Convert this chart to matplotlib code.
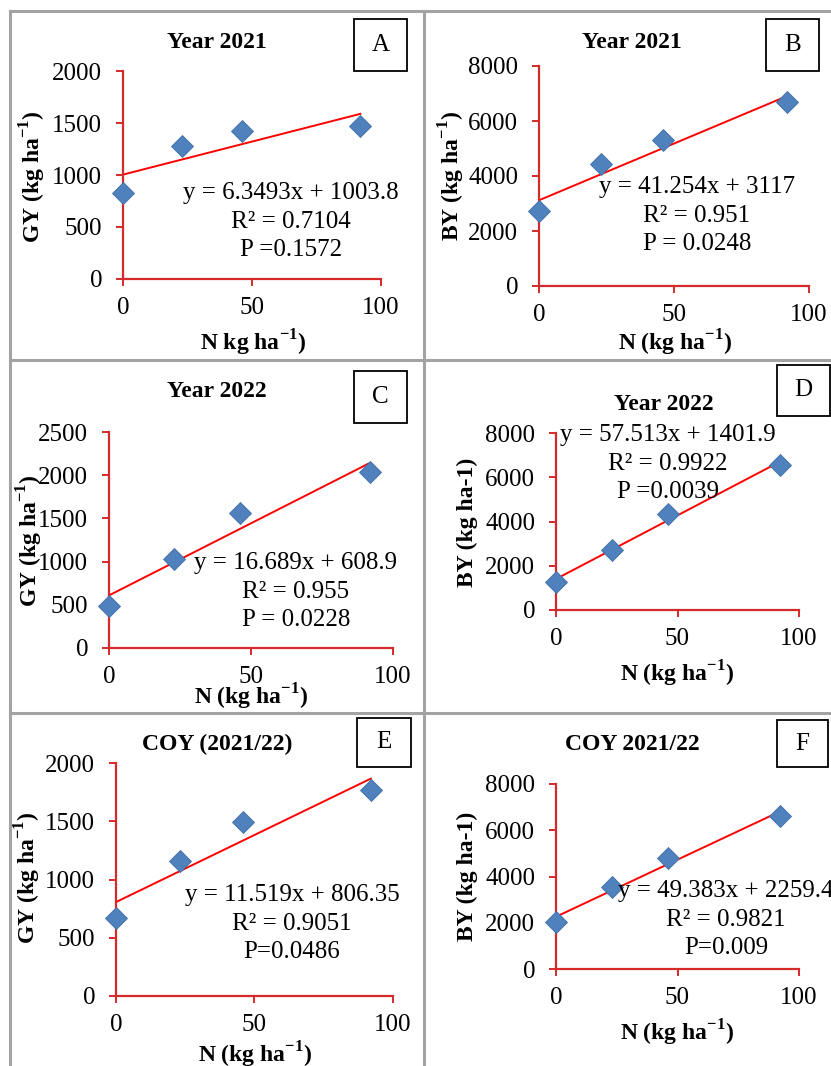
import matplotlib
matplotlib.use("Agg")
import matplotlib.pyplot as plt
from matplotlib.lines import Line2D
from matplotlib.patches import Rectangle
import numpy as np

# N levels and yields
n_rate = [0, 23, 46, 92]
gy_2021 = [827, 1282, 1423, 1474]
by_2021 = [2727, 4425, 5298, 6691]
gy_2022 = [490, 1030, 1562, 2040]
by_2022 = [1277, 2707, 4345, 6543]
gy_coy = [666, 1160, 1494, 1766]
by_coy = [2022, 3565, 4821, 6627]

# fitted lines (slope, intercept) as printed on the panels
slopes = [6.3493, 41.254, 16.689, 57.513, 11.519, 49.383]
intercepts = [1003.8, 3117, 608.9, 1401.9, 806.35, 2259.4]

panel_letters = ["A", "B", "C", "D", "E", "F"]
titles = ["Year 2021", "Year 2021", "Year 2022", "Year 2022", "COY (2021/22)", "COY 2021/22"]
y_labels = [r"GY (kg ha$^{\mathbf{-1}}$)", r"BY (kg ha$^{\mathbf{-1}}$)",
            r"GY (kg ha$^{\mathbf{-1}}$)", "BY (kg ha-1)",
            r"GY (kg ha$^{\mathbf{-1}}$)", "BY (kg ha-1)"]
x_labels = [r"N kg ha$^{\mathbf{-1}}$)"] + [r"N (kg ha$^{\mathbf{-1}}$)"] * 5
stats_text = [
    ["y = 6.3493x + 1003.8", "R² = 0.7104", "P =0.1572"],
    ["y = 41.254x + 3117", "R² = 0.951", "P = 0.0248"],
    ["y = 16.689x + 608.9", "R² = 0.955", "P = 0.0228"],
    ["y = 57.513x + 1401.9", "R² = 0.9922", "P =0.0039"],
    ["y = 11.519x + 806.35", "R² = 0.9051", "P=0.0486"],
    ["y = 49.383x + 2259.4", "R² = 0.9821", "P=0.009"],
]
y_max = [2000, 8000, 2500, 8000, 2000, 8000]
y_step = [500, 2000, 500, 2000, 500, 2000]
series = [gy_2021, by_2021, gy_2022, by_2022, gy_coy, by_coy]

# layout in pixels (left, right, top, bottom of plot area)
axes_px = [(123, 381, 71, 279), (539, 809, 66, 286),
           (109, 393, 432, 648), (556, 799, 433, 610),
           (116, 393, 763, 996), (556, 799, 784, 969)]
title_px = [(217, 42), (632, 42), (217, 392), (664, 405), (217, 744), (632, 744)]
box_px = [(354, 19, 407, 71), (766, 19, 819, 71), (354, 371, 407, 423),
          (777, 365, 830, 416), (357, 718, 411, 767), (777, 720, 828, 767)]
ylab_px = [(33, 177), (452, 176), (30, 541), (467, 522), (28, 878), (467, 876)]
xlab_px = [(253, 343), (675, 343), (251, 697), (677, 674), (255, 1055), (677, 1033)]
stat_px = [(291, 222), (697, 216), (296, 592), (668, 464), (292, 924), (726, 920)]

W, H = 831, 1066
plt.rcParams["font.family"] = "Liberation Serif"
plt.rcParams["mathtext.fontset"] = "custom"
plt.rcParams["mathtext.rm"] = "Liberation Serif"
plt.rcParams["mathtext.bf"] = "Liberation Serif:bold"

FS = 18      # regular text
FS_B = 17    # bold labels and titles
AXIS_RED = "#D42A2A"
BLUE = "#4F81BD"


def fx(x):
    return x / W


def fy(y):
    return 1 - y / H


fig = plt.figure(figsize=(W / 100, H / 100), dpi=100)

# table grid around the panels
grid_kw = dict(color="#A3A3A3", lw=2.2, transform=fig.transFigure)
for x in [10, 424]:
    fig.add_artist(Line2D([fx(x), fx(x)], [fy(11), 0], **grid_kw))
for y in [11, 360, 713]:
    fig.add_artist(Line2D([fx(10), 1], [fy(y), fy(y)], **grid_kw))

for i in range(6):
    l, r, t, b = axes_px[i]
    ax = fig.add_axes([fx(l), fy(b), (r - l) / W, (b - t) / H])
    ax.set_xlim(0, 100)
    ax.set_ylim(0, y_max[i])
    ax.set_xticks([0, 50, 100])
    ax.set_yticks(np.arange(0, y_max[i] + 1, y_step[i]))
    for side in ["top", "right"]:
        ax.spines[side].set_visible(False)
    for side in ["left", "bottom"]:
        ax.spines[side].set_color(AXIS_RED)
        ax.spines[side].set_linewidth(1.6)
    ax.tick_params(axis="both", direction="out", length=5, width=1.4,
                   color=AXIS_RED, labelcolor="black", labelsize=FS)
    ax.tick_params(axis="x", pad=8)
    ax.tick_params(axis="y", pad=10)
    ax.patch.set_alpha(0)

    xs = np.array([n_rate[0], n_rate[-1]])
    ax.plot(xs, slopes[i] * xs + intercepts[i], color="#FF0000", lw=1.4,
            clip_on=False, zorder=2)
    ax.plot(n_rate, series[i], linestyle="none", marker="D", ms=11,
            color=BLUE, mec="#3F6FA8", mew=0.6, clip_on=False, zorder=3)

    # title, axis labels
    tx, ty = title_px[i]
    fig.text(fx(tx), fy(ty), titles[i], ha="center", va="center",
             fontsize=FS_B, fontweight="bold")
    yx, yy = ylab_px[i]
    fig.text(fx(yx), fy(yy), y_labels[i], ha="center", va="center",
             rotation=90, fontsize=FS_B, fontweight="bold")
    xx, xy = xlab_px[i]
    fig.text(fx(xx), fy(xy), x_labels[i], ha="center", va="center",
             fontsize=FS_B, fontweight="bold")

    # regression statistics
    sx, sy = stat_px[i]
    for k, line in enumerate(stats_text[i]):
        fig.text(fx(sx), fy(sy + (k - 1) * 28.5), line, ha="center",
                 va="center", fontsize=FS, zorder=5)

    # panel letter box
    bx0, by0, bx1, by1 = box_px[i]
    fig.add_artist(Rectangle((fx(bx0), fy(by1)), (bx1 - bx0) / W, (by1 - by0) / H,
                             transform=fig.transFigure, fill=False,
                             edgecolor="black", lw=1.3))
    fig.text(fx((bx0 + bx1) / 2), fy((by0 + by1) / 2), panel_letters[i],
             ha="center", va="center", fontsize=FS)

fig.savefig("out.png", dpi=100)
